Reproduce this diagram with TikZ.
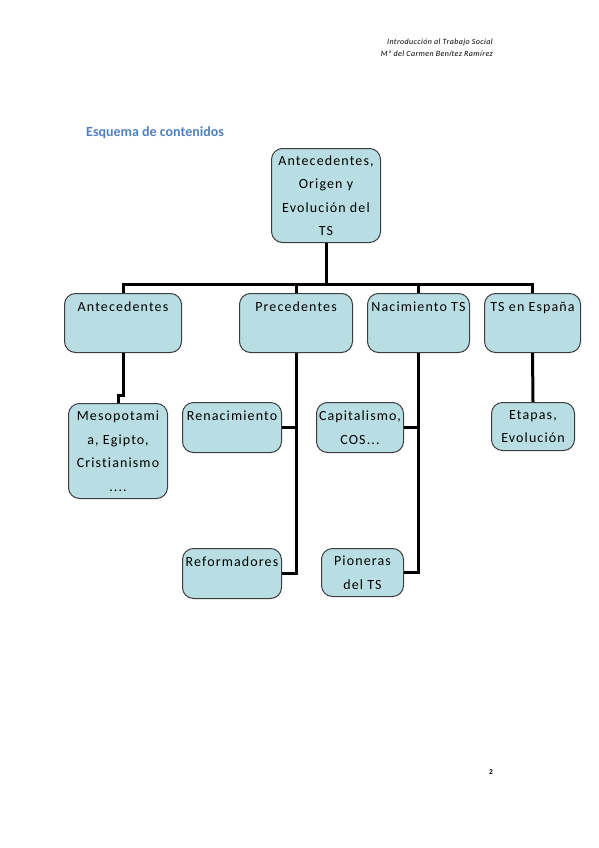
\documentclass[tikz,border=0pt]{standalone}
\usepackage{fontspec}
\setmainfont{Carlito}
\newfontfamily\boxfont[LetterSpace=8,Ligatures=CommonOff]{Carlito}
\newfontfamily\headfont[LetterSpace=5,Ligatures=CommonOff]{Carlito}
\usetikzlibrary{positioning}

\definecolor{boxfill}{RGB}{184,222,227}
\definecolor{boxline}{RGB}{60,60,60}
\definecolor{titleblue}{RGB}{79,129,189}

\tikzset{
    box/.style={draw=boxline, fill=boxfill, rounded corners=11pt, line width=1pt,
        align=center, inner sep=0pt, anchor=north west,
        font=\boxfont\fontsize{14}{23.5}\selectfont},
    topbox/.style={box, text height=18pt, text depth=#1},
    link/.style={line width=3pt, black}
}

\begin{document}
\begin{tikzpicture}[x=1pt,y=-1pt]
    \useasboundingbox (0,0) rectangle (599,848);

    % page header and title
    \node[anchor=north east, align=right, inner sep=0pt,
        font=\headfont\itshape\fontsize{8}{12}\selectfont] (head) at (493,39)
        {Introducción al Trabajo Social\\Mª del Carmen Benítez Ramírez};
    \node[anchor=west, inner sep=0pt, text=titleblue,
        font=\bfseries\fontsize{14}{16}\selectfont] (title) at (86,133) {Esquema de contenidos};
    \node[inner sep=0pt, font=\bfseries\fontsize{7.5}{9}\selectfont] (pagenum) at (491,772) {2};

    % main box
    \node[box, minimum width=109pt, minimum height=94pt] (root) at (271,148)
        {Antecedentes,\\Origen y\\Evolución del\\TS};

    % second level
    \node[topbox=41pt, minimum width=117pt] (ant) at (64,293) {Antecedentes};
    \node[topbox=41pt, minimum width=113pt] (prec) at (239,293) {Precedentes};
    \node[topbox=41pt, minimum width=102pt] (nac) at (367,293) {Nacimiento TS};
    \node[topbox=41pt, minimum width=96pt] (esp) at (484,293) {TS en España};

    % third level
    \node[box, minimum width=99pt, minimum height=95pt] (meso) at (68,403)
        {Mesopotami\\a, Egipto,\\Cristianismo\\....};
    \node[topbox=32pt, minimum width=99pt] (rena) at (182,402) {Renacimiento};
    \node[topbox=32pt, minimum width=99pt] (refo) at (182,548) {Reformadores};
    \node[box, minimum width=87pt, minimum height=50pt] (capi) at (316,402)
        {Capitalismo,\\COS...};
    \node[box, minimum width=82pt, minimum height=48pt] (pion) at (321,548)
        {Pioneras\\del TS};
    \node[box, minimum width=83pt, minimum height=48pt] (etap) at (491,402)
        {Etapas,\\Evolución};

    % connectors
    \path (root.south) ++(0,41) coordinate (hub);
    \draw[link] (root.south) -- (hub);
    \draw[link] (ant.north) |- (hub) -| (esp.north);
    \draw[link] (prec.north) -- (prec.north |- hub);
    \draw[link] (nac.north) -- (nac.north |- hub);

    \draw[link] (ant.south) -- ++(0,42) -| (meso.north);
    \draw[link] (prec.south) |- (refo.east);
    \draw[link] (rena.east) -- (rena.east -| prec.south);
    \draw[link] (nac.south) |- (pion.east);
    \draw[link] (capi.east) -- (capi.east -| nac.south);
    \draw[link] (esp.south) -- (etap.north);
\end{tikzpicture}
\end{document}
